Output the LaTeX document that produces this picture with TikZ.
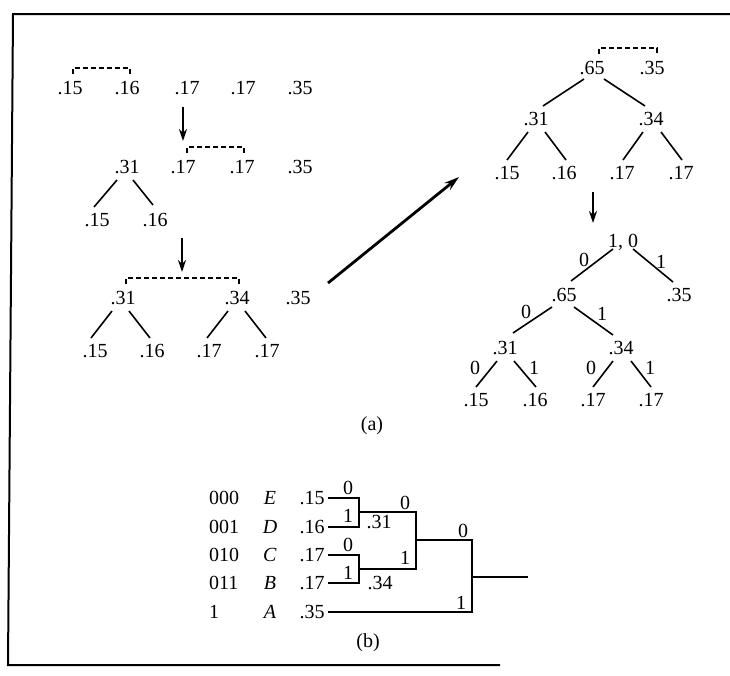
\documentclass[tikz,border=0pt]{standalone}
\usepackage{fontspec}
\setmainfont{Liberation Serif}
\usetikzlibrary{arrows.meta,calc}
\newcommand\hedge[6]{\draw[edge] ($(#1)+(#2,#3)$) -- ($(#4)+(#5,#6)$);}
\newcommand\hbrk[4]{\draw[brk] ($(#1)+(#2,-14)$) -- ++(0,-6) -| ($(#3)+(#4,-14)$);}
\begin{document}
\begin{tikzpicture}[x=1pt,y=-1pt,
  lbl/.style={inner sep=0pt,text height=13.4pt,text depth=0pt,font=\fontsize{20}{22}\selectfont},
  edge/.style={line width=1.6pt},
  brk/.style={line width=1.2pt,dash pattern=on 5pt off 3pt},
  darr/.style={line width=2.6pt,-{Stealth[length=12pt,width=8pt]}},
  bigarr/.style={line width=2.8pt,-{Stealth[length=15pt,width=9pt]}},
  frame/.style={line width=2pt}]
\useasboundingbox (0,0) rectangle (730,675);

% frame
\coordinate (f1) at (730,14);
\coordinate (f2) at (13,14);
\coordinate (f3) at (8,665);
\coordinate (f4) at (500,665);
\draw[frame] (f1) -- (f2) -- (f3) -- (f4);

% ---------- left column ----------
\node[lbl] (a1) at (70,88) {.15};
\node[lbl] (a2) at (127,88) {.16};
\node[lbl] (a3) at (187,88) {.17};
\node[lbl] (a4) at (243,88) {.17};
\node[lbl] (a5) at (300,88) {.35};
\hbrk{a1}{3}{a2}{3}

\coordinate (ar1s) at (183,107);
\coordinate (ar1e) at (183,141);
\draw[darr] (ar1s) -- (ar1e);

\node[lbl] (b31) at (127,167) {.31};
\node[lbl] (b17a) at (183,167) {.17};
\node[lbl] (b17b) at (242,167) {.17};
\node[lbl] (b35) at (300,167) {.35};
\node[lbl] (b15) at (97,220) {.15};
\node[lbl] (b16) at (155,220) {.16};
\hbrk{b17a}{4}{b17b}{2}
\hedge{b31}{-10}{13}{b15}{-3}{-13}
\hedge{b31}{6}{13}{b16}{-2}{-15}

\coordinate (ar2s) at (182,238);
\coordinate (ar2e) at (182,272);
\draw[darr] (ar2s) -- (ar2e);

\node[lbl] (c31) at (123,298) {.31};
\node[lbl] (c34) at (237,298) {.34};
\node[lbl] (c35) at (298,298) {.35};
\node[lbl] (c15) at (95,351) {.15};
\node[lbl] (c16) at (152,351) {.16};
\node[lbl] (c17a) at (209,351) {.17};
\node[lbl] (c17b) at (267,351) {.17};
\hbrk{c31}{3}{c34}{2}
\hedge{c31}{-11}{13}{c15}{-4}{-13}
\hedge{c31}{6}{13}{c16}{-2}{-13}
\hedge{c34}{-9}{13}{c17a}{-2}{-13}
\hedge{c34}{8}{13}{c17b}{-1}{-13}

\coordinate (bas) at (328,283);
\coordinate (bae) at (459,177);
\draw[bigarr] (bas) -- (bae);

% ---------- right top tree ----------
\node[lbl] (d65) at (592,68) {.65};
\node[lbl] (d35) at (652,68) {.35};
\node[lbl] (d31) at (536,119) {.31};
\node[lbl] (d34) at (651,119) {.34};
\node[lbl] (d15) at (507,173) {.15};
\node[lbl] (d16) at (564,173) {.16};
\node[lbl] (d17a) at (622,173) {.17};
\node[lbl] (d17b) at (681,173) {.17};
\hbrk{d65}{7}{d35}{5}
\hedge{d65}{-8}{11}{d31}{7}{-13}
\hedge{d65}{12}{11}{d34}{-6}{-13}
\hedge{d31}{-8}{13}{d15}{0}{-13}
\hedge{d31}{9}{13}{d16}{2}{-13}
\hedge{d34}{-8}{13}{d17a}{1}{-13}
\hedge{d34}{10}{13}{d17b}{1}{-13}

\coordinate (ar3s) at (593,192);
\coordinate (ar3e) at (593,223);
\draw[darr] (ar3s) -- (ar3e);

% ---------- labelled tree ----------
\node[lbl] (e10) at (623,241) {1, 0};
\node[lbl] (e65) at (564,295) {.65};
\node[lbl] (e35) at (679,295) {.35};
\node[lbl] (e31) at (505,348) {.31};
\node[lbl] (e34) at (621,348) {.34};
\node[lbl] (e15) at (476,400) {.15};
\node[lbl] (e16) at (535,400) {.16};
\node[lbl] (e17a) at (593,400) {.17};
\node[lbl] (e17b) at (651,400) {.17};
\hedge{e10}{-10}{8}{e65}{7}{-14}
\hedge{e10}{10}{8}{e35}{-6}{-13}
\hedge{e65}{-12}{12}{e31}{8}{-15}
\hedge{e65}{10}{12}{e34}{-8}{-13}
\hedge{e31}{-8}{13}{e15}{0}{-13}
\hedge{e31}{9}{13}{e16}{1}{-13}
\hedge{e34}{-8}{13}{e17a}{0}{-13}
\hedge{e34}{10}{13}{e17b}{0}{-13}
\node[lbl] (el1) at (584,260) {0};
\node[lbl] (el2) at (661,262) {1};
\node[lbl] (el3) at (526,312) {0};
\node[lbl] (el4) at (602,314) {1};
\node[lbl] (el5) at (475,368) {0};
\node[lbl] (el6) at (534,368) {1};
\node[lbl] (el7) at (591,368) {0};
\node[lbl] (el8) at (650,368) {1};

\node[lbl] (capa) at (372,424) {(a)};

% ---------- part (b) ----------
\node[lbl,anchor=west] (q1) at (209,498) {000};
\node[lbl,anchor=west] (q2) at (209,527) {001};
\node[lbl,anchor=west] (q3) at (209,555) {010};
\node[lbl,anchor=west] (q4) at (209,583) {011};
\node[lbl,anchor=west] (q5) at (209,612) {1};
\node[lbl] (s1) at (270,498) {\textit{E}};
\node[lbl] (s2) at (270,527) {\textit{D}};
\node[lbl] (s3) at (270,555) {\textit{C}};
\node[lbl] (s4) at (270,583) {\textit{B}};
\node[lbl] (s5) at (270,612) {\textit{A}};
\node[lbl] (p15) at (312,498) {.15};
\node[lbl] (p16) at (312,527) {.16};
\node[lbl] (p17a) at (312,555) {.17};
\node[lbl] (p17b) at (312,583) {.17};
\node[lbl] (p35) at (312,612) {.35};

\coordinate (j1) at (359,512);
\coordinate (j2) at (359,569);
\coordinate (k) at (416,540);
\coordinate (r) at (472,577);
\coordinate (out) at (528,577);
\draw[edge] ([xshift=3pt]p15.east) -| (j1) |- ([xshift=3pt]p16.east);
\draw[edge] ([xshift=3pt]p17a.east) -| (j2) |- ([xshift=3pt]p17b.east);
\draw[edge] (j1) -| (k) |- (j2);
\draw[edge] (k) -| (r) |- ([xshift=3pt]p35.east);
\draw[edge] (r) -- (out);

\node[lbl] (bl1) at (348,488) {0};
\node[lbl] (bl2) at (348,516) {1};
\node[lbl] (bl3) at (379,522) {.31};
\node[lbl] (bl4) at (405,503) {0};
\node[lbl] (bl5) at (348,545) {0};
\node[lbl] (bl6) at (348,573) {1};
\node[lbl] (bl7) at (380,583) {.34};
\node[lbl] (bl8) at (405,558) {1};
\node[lbl] (bl9) at (463,531) {0};
\node[lbl] (bl10) at (461,603) {1};

\node[lbl] (capb) at (368,641) {(b)};
\end{tikzpicture}
\end{document}
